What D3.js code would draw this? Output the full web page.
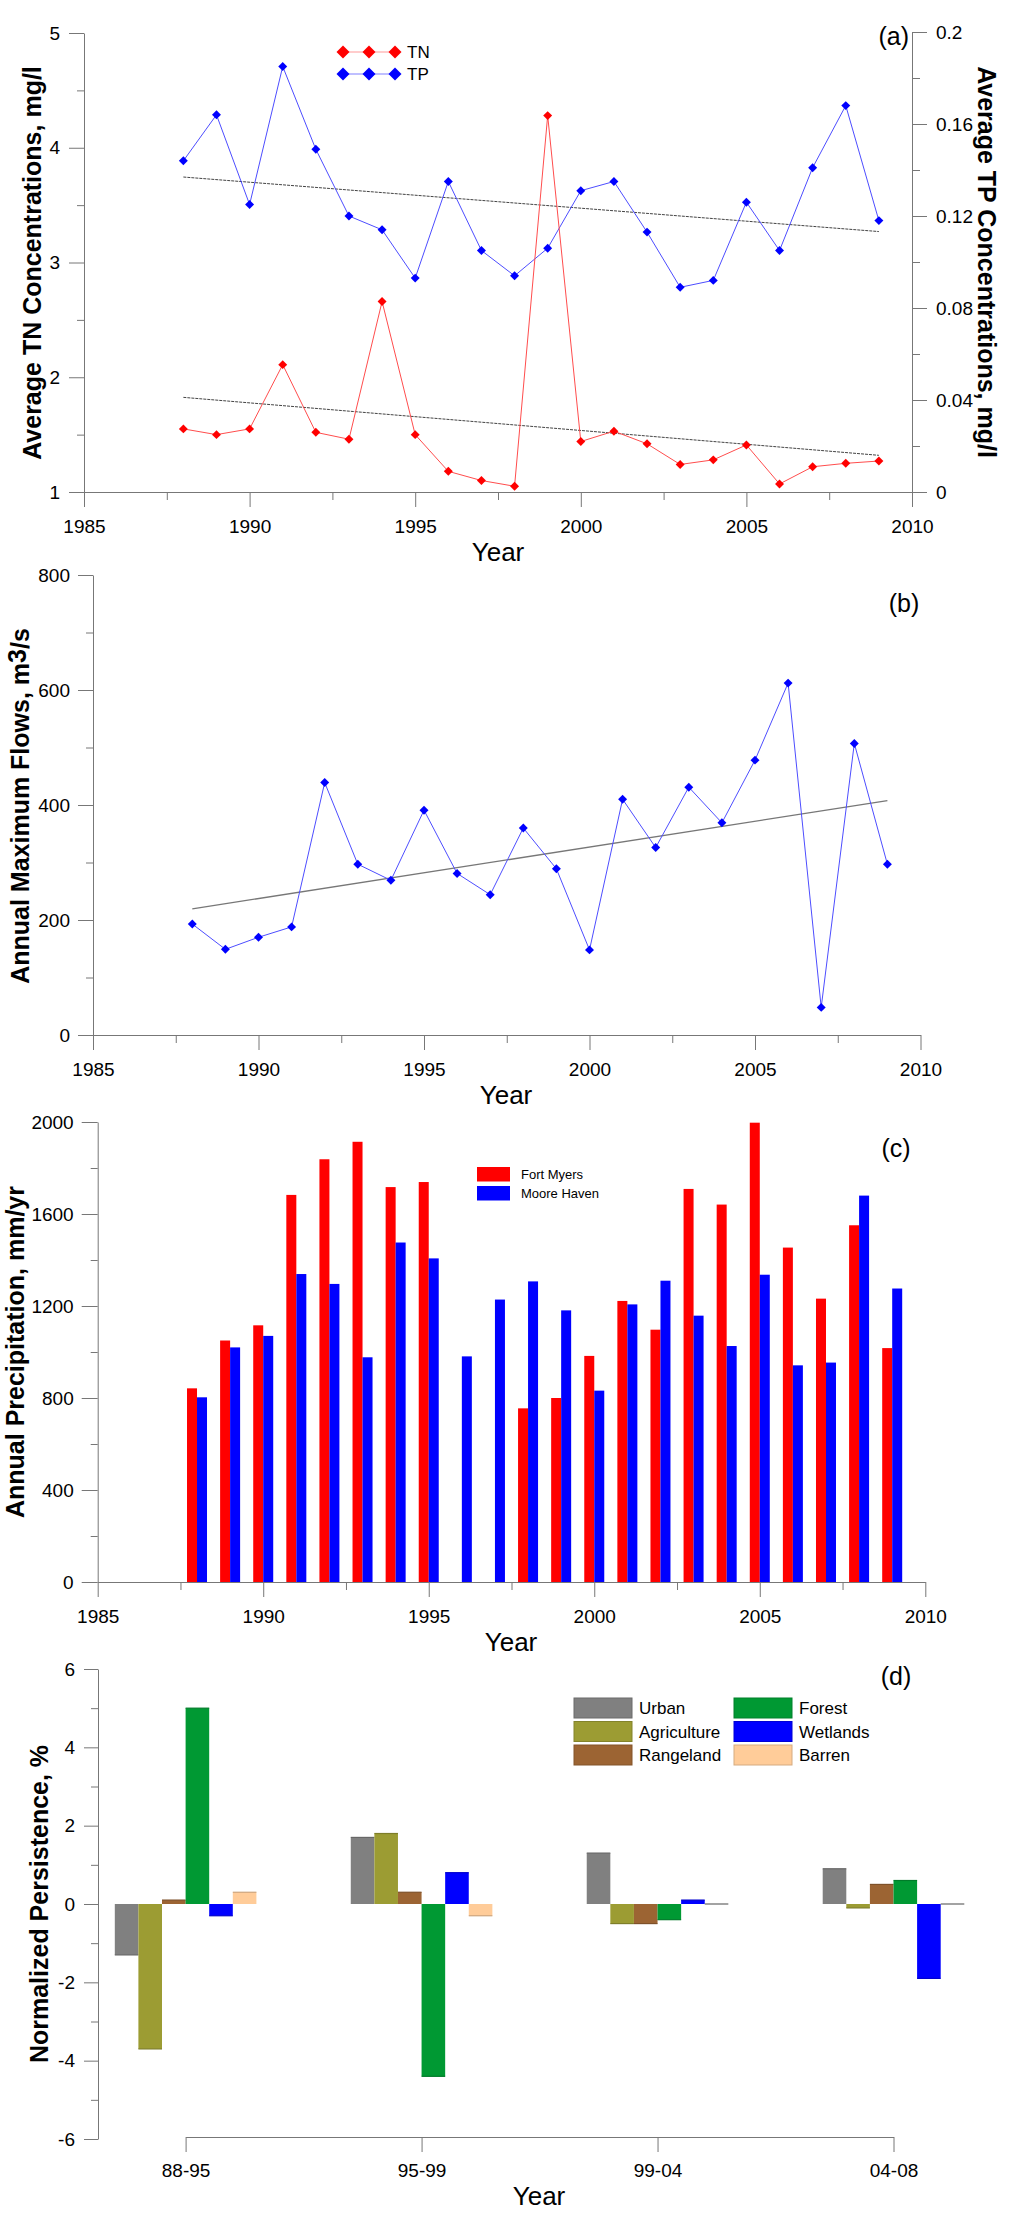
<!DOCTYPE html>
<html>
<head>
<meta charset="utf-8">
<script src="https://cdn.jsdelivr.net/npm/d3@7"></script>
<style>
  body { margin: 0; background: #fff; }
  text { font-family: "Liberation Sans", Arial, sans-serif; }
</style>
</head>
<body>
<div id="chart-area"></div>
<script>
// data
var years = [1988, 1989, 1990, 1991, 1992, 1993, 1994, 1995, 1996, 1997, 1998,
             1999, 2000, 2001, 2002, 2003, 2004, 2005, 2006, 2007, 2008, 2009];
var tn = [1.55, 1.50, 1.55, 2.11, 1.52, 1.46, 2.66, 1.50, 1.18, 1.10, 1.05,
          4.28, 1.44, 1.53, 1.42, 1.24, 1.28, 1.41, 1.07, 1.22, 1.25, 1.27];
var tp = [0.144, 0.164, 0.125, 0.185, 0.149, 0.120, 0.114, 0.093, 0.135, 0.105, 0.094,
          0.106, 0.131, 0.135, 0.113, 0.089, 0.092, 0.126, 0.105, 0.141, 0.168, 0.118];
var maxFlow = [193, 149, 170, 188, 439, 297, 269, 391, 281, 244, 360,
               289, 148, 410, 326, 431, 369, 478, 612, 48, 507, 297];
var fortMyers = [842, 1050, 1116, 1683, 1838, 1914, 1717, 1739, null, null, 755,
                 800, 983, 1222, 1097, 1709, 1641, 1997, 1454, 1232, 1551, 1017];
var mooreHaven = [803, 1020, 1070, 1339, 1296, 977, 1476, 1407, 981, 1228, 1307,
                  1181, 832, 1207, 1310, 1158, 1026, 1336, 942, 954, 1680, 1276];

var periods = ["88-95", "95-99", "99-04", "04-08"];
var landUse = ["Urban", "Agriculture", "Rangeland", "Forest", "Wetlands", "Barren"];
var urban = [-1.3, 1.7, 1.3, 0.9];
var agriculture = [-3.7, 1.8, -0.5, -0.1];
var rangeland = [0.1, 0.3, -0.5, 0.5];
var forest = [5.0, -4.4, -0.4, 0.6];
var wetlands = [-0.3, 0.8, 0.1, -1.9];
var barren = [0.3, -0.3, 0, 0];
var landColors = ["#808080", "#9c9c33", "#9c6433", "#009933", "#0000ff", "#ffcc99"];

var yearTicks = [1985, 1990, 1995, 2000, 2005, 2010];
var yearMinor = [1987.5, 1992.5, 1997.5, 2002.5, 2007.5];

var AXIS = "#777";
var FONT = "Liberation Sans, Arial, sans-serif";
var plain = function (d) { return String(+d.toFixed(3)); };

var svg = d3.select("#chart-area").append("svg")
    .attr("width", 1024)
    .attr("height", 2214);

function styleAxis(g, size) {
    g.attr("font-family", FONT).attr("font-size", size);
    g.select(".domain").attr("stroke", AXIS);
    g.selectAll(".tick line").attr("stroke", AXIS);
    g.selectAll(".tick text").attr("fill", "#000");
}

function minorAxis(g) {
    g.select(".domain").remove();
    g.selectAll(".tick line").attr("stroke", AXIS);
}

function yTitle(x, y, text, rot) {
    return svg.append("text")
        .attr("transform", "translate(" + x + "," + y + ") rotate(" + rot + ")")
        .attr("text-anchor", "middle")
        .attr("font-weight", "bold")
        .attr("font-size", 25)
        .text(text);
}

function plainText(x, y, text, size, anchor) {
    return svg.append("text")
        .attr("x", x).attr("y", y)
        .attr("text-anchor", anchor || "middle")
        .attr("font-size", size)
        .text(text);
}

// least squares line through the yearly values
function trend(xs, ys) {
    var mx = d3.mean(xs), my = d3.mean(ys);
    var num = d3.sum(xs, function (x, i) { return (x - mx) * (ys[i] - my); });
    var den = d3.sum(xs, function (x) { return (x - mx) * (x - mx); });
    var b = num / den;
    return function (x) { return my + b * (x - mx); };
}

function yearAxis(x, yPos) {
    var g = svg.append("g").attr("transform", "translate(0," + yPos + ")")
        .call(d3.axisBottom(x).tickValues(yearTicks).tickSize(15).tickPadding(13)
            .tickSizeOuter(0).tickFormat(d3.format("d")));
    styleAxis(g, 19);
    svg.append("g").attr("transform", "translate(0," + yPos + ")")
        .call(d3.axisBottom(x).tickValues(yearMinor).tickSize(8).tickFormat(""))
        .call(minorAxis);
}

var diamond = d3.symbol().type(d3.symbolSquare).size(40);
var bigDiamond = d3.symbol().type(d3.symbolSquare).size(85);

// ---------- (a) TN / TP ----------
var xa = d3.scaleLinear().domain([1985, 2010]).range([84, 912]);
var yTN = d3.scaleLinear().domain([1, 5]).range([492, 33]);
var yTP = d3.scaleLinear().domain([0, 0.2]).range([492, 32]);

var ga = svg.append("g").attr("transform", "translate(84,0)")
    .call(d3.axisLeft(yTN).tickValues([1, 2, 3, 4, 5]).tickSize(15).tickPadding(9)
        .tickSizeOuter(0).tickFormat(plain));
styleAxis(ga, 19);
svg.append("g").attr("transform", "translate(84,0)")
    .call(d3.axisLeft(yTN).tickValues([1.5, 2.5, 3.5, 4.5]).tickSize(7).tickFormat(""))
    .call(minorAxis);

var gr = svg.append("g").attr("transform", "translate(912,0)")
    .call(d3.axisRight(yTP).tickValues([0, 0.04, 0.08, 0.12, 0.16, 0.2]).tickSize(15).tickPadding(9)
        .tickSizeOuter(0).tickFormat(plain));
styleAxis(gr, 19);
svg.append("g").attr("transform", "translate(912,0)")
    .call(d3.axisRight(yTP).tickValues([0.02, 0.06, 0.1, 0.14, 0.18]).tickSize(8).tickFormat(""))
    .call(minorAxis);

yearAxis(xa, 492);

var tnTrend = trend(years, tn);
var tpTrend = trend(years, tp);
var ends = [years[0], years[years.length - 1]];

svg.append("path")
    .attr("d", d3.line().x(function (d) { return xa(d); }).y(function (d) { return yTP(tpTrend(d)); })(ends))
    .attr("stroke", "#444").attr("stroke-width", 1).attr("stroke-dasharray", "3,1").attr("fill", "none");
svg.append("path")
    .attr("d", d3.line().x(function (d) { return xa(d); }).y(function (d) { return yTN(tnTrend(d)); })(ends))
    .attr("stroke", "#444").attr("stroke-width", 1).attr("stroke-dasharray", "3,1").attr("fill", "none");

svg.append("path")
    .attr("d", d3.line().x(function (d, i) { return xa(years[i]); }).y(function (d) { return yTP(d); })(tp))
    .attr("stroke", "#4d4dff").attr("stroke-width", 1).attr("fill", "none");
svg.append("path")
    .attr("d", d3.line().x(function (d, i) { return xa(years[i]); }).y(function (d) { return yTN(d); })(tn))
    .attr("stroke", "#ff4d4d").attr("stroke-width", 1).attr("fill", "none");

svg.selectAll(".tp-dot").data(tp).enter().append("path")
    .attr("class", "tp-dot")
    .attr("d", diamond)
    .attr("transform", function (d, i) { return "translate(" + xa(years[i]) + "," + yTP(d) + ") rotate(45)"; })
    .attr("fill", "#0000ff");
svg.selectAll(".tn-dot").data(tn).enter().append("path")
    .attr("class", "tn-dot")
    .attr("d", diamond)
    .attr("transform", function (d, i) { return "translate(" + xa(years[i]) + "," + yTN(d) + ") rotate(45)"; })
    .attr("fill", "#ff0000");

// legend (a)
[["TN", "#ff0000", "#ff9a9a", 52], ["TP", "#0000ff", "#8080ff", 74]].forEach(function (s) {
    svg.append("line").attr("x1", 343).attr("x2", 395).attr("y1", s[3]).attr("y2", s[3])
        .attr("stroke", s[2]).attr("stroke-width", 1.2);
    [343, 369, 395].forEach(function (cx) {
        svg.append("path").attr("d", bigDiamond)
            .attr("transform", "translate(" + cx + "," + s[3] + ") rotate(45)")
            .attr("fill", s[1]);
    });
    plainText(407, s[3] + 6, s[0], 17, "start");
});

yTitle(41, 263, "Average TN Concentrations, mg/l", -90);
yTitle(978, 262, "Average TP Concentrations, mg/l", 90);
plainText(498, 561, "Year", 26);
plainText(909, 45, "(a)", 25, "end");

// ---------- (b) annual maximum flows ----------
var xb = d3.scaleLinear().domain([1985, 2010]).range([93, 920.5]);
var yb = d3.scaleLinear().domain([0, 800]).range([1035, 575]);

var gb = svg.append("g").attr("transform", "translate(93,0)")
    .call(d3.axisLeft(yb).tickValues([0, 200, 400, 600, 800]).tickSize(15).tickPadding(8)
        .tickSizeOuter(0).tickFormat(d3.format("d")));
styleAxis(gb, 19);
svg.append("g").attr("transform", "translate(93,0)")
    .call(d3.axisLeft(yb).tickValues([100, 300, 500, 700]).tickSize(7).tickFormat(""))
    .call(minorAxis);
yearAxis(xb, 1035);

var flowTrend = trend(years, maxFlow);
svg.append("path")
    .attr("d", d3.line().x(function (d) { return xb(d); }).y(function (d) { return yb(flowTrend(d)); })(ends))
    .attr("stroke", "#777").attr("stroke-width", 1.3).attr("fill", "none");
svg.append("path")
    .attr("d", d3.line().x(function (d, i) { return xb(years[i]); }).y(function (d) { return yb(d); })(maxFlow))
    .attr("stroke", "#4d4dff").attr("stroke-width", 1).attr("fill", "none");
svg.selectAll(".flow-dot").data(maxFlow).enter().append("path")
    .attr("class", "flow-dot")
    .attr("d", diamond)
    .attr("transform", function (d, i) { return "translate(" + xb(years[i]) + "," + yb(d) + ") rotate(45)"; })
    .attr("fill", "#0000ff");

var tb = yTitle(29, 806, "Annual Maximum Flows, m", -90);
tb.append("tspan").attr("dy", -3).text("3");
tb.append("tspan").attr("dy", 3).text("/s");
plainText(506, 1104, "Year", 26);
plainText(904, 612, "(b)", 25);

// ---------- (c) annual precipitation ----------
var xc = d3.scaleLinear().domain([1985, 2010]).range([97.7, 925.3]);
var yc = d3.scaleLinear().domain([0, 2000]).range([1582, 1122]);

var gc = svg.append("g").attr("transform", "translate(97.7,0)")
    .call(d3.axisLeft(yc).tickValues([0, 400, 800, 1200, 1600, 2000]).tickSize(16).tickPadding(8)
        .tickSizeOuter(0).tickFormat(d3.format("d")));
styleAxis(gc, 19);
svg.append("g").attr("transform", "translate(97.7,0)")
    .call(d3.axisLeft(yc).tickValues([200, 600, 1000, 1400, 1800]).tickSize(7).tickFormat(""))
    .call(minorAxis);
yearAxis(xc, 1582);

var barW = 10;
var fmRows = years.map(function (yr, i) { return { year: yr, v: fortMyers[i] }; })
    .filter(function (d) { return d.v !== null; });
svg.selectAll(".fm-bar").data(fmRows).enter().append("rect")
    .attr("class", "fm-bar")
    .attr("x", function (d) { return xc(d.year) - barW; })
    .attr("y", function (d) { return yc(d.v); })
    .attr("width", barW)
    .attr("height", function (d) { return yc(0) - yc(d.v); })
    .attr("fill", "#ff0000");
svg.selectAll(".mh-bar").data(mooreHaven).enter().append("rect")
    .attr("class", "mh-bar")
    .attr("x", function (d, i) { return xc(years[i]); })
    .attr("y", function (d) { return yc(d); })
    .attr("width", barW)
    .attr("height", function (d) { return yc(0) - yc(d); })
    .attr("fill", "#0000ff");

svg.append("rect").attr("x", 477).attr("y", 1167).attr("width", 33).attr("height", 14.5).attr("fill", "#ff0000");
svg.append("rect").attr("x", 477).attr("y", 1186).attr("width", 33).attr("height", 14.5).attr("fill", "#0000ff");
plainText(521, 1179, "Fort Myers", 13, "start");
plainText(521, 1198, "Moore Haven", 13, "start");

yTitle(24, 1352, "Annual Precipitation, mm/yr", -90);
plainText(511, 1651, "Year", 26);
plainText(896, 1157, "(c)", 25);

// ---------- (d) normalized persistence ----------
var xd = d3.scalePoint().domain(periods).range([185.6, 893.5]);
var inner = d3.scaleBand().domain(landUse).range([-70.8, 70.8]);
var yd = d3.scaleLinear().domain([-6, 6]).range([2139, 1669]);
var seriesD = [urban, agriculture, rangeland, forest, wetlands, barren];

var gd = svg.append("g").attr("transform", "translate(98,0)")
    .call(d3.axisLeft(yd).tickValues([-6, -4, -2, 0, 2, 4, 6]).tickSize(14).tickPadding(9)
        .tickSizeOuter(0).tickFormat(function (d) { return String(d); }));
styleAxis(gd, 19);
svg.append("g").attr("transform", "translate(98,0)")
    .call(d3.axisLeft(yd).tickValues([-5, -3, -1, 1, 3, 5]).tickSize(7).tickFormat(""))
    .call(minorAxis);

var gdx = svg.append("g").attr("transform", "translate(0," + (yd(-6) - 2) + ")")
    .call(d3.axisBottom(xd).tickSize(15).tickPadding(12).tickSizeOuter(0));
styleAxis(gdx, 19);

landUse.forEach(function (name, k) {
    var col = landColors[k];
    var edge = d3.color(col).darker(0.6);
    var grp = svg.selectAll(".bar-" + k).data(seriesD[k]).enter();
    grp.append("rect")
        .attr("class", "bar-" + k)
        .attr("x", function (d, i) { return xd(periods[i]) + inner(name); })
        .attr("y", function (d) { return yd(Math.max(0, d)); })
        .attr("width", inner.bandwidth())
        .attr("height", function (d) { return Math.abs(yd(d) - yd(0)); })
        .attr("fill", col);
    grp.append("line")
        .attr("x1", function (d, i) { return xd(periods[i]) + inner(name); })
        .attr("x2", function (d, i) { return xd(periods[i]) + inner(name) + inner.bandwidth(); })
        .attr("y1", function (d) { return yd(d); })
        .attr("y2", function (d) { return yd(d); })
        .attr("stroke", function (d) { return d === 0 ? "#666" : edge; })
        .attr("stroke-width", 1.2);
});

// legend (d)
landUse.forEach(function (name, k) {
    var lx = k < 3 ? 574 : 734;
    var ly = 1698 + (k % 3) * 23.5;
    svg.append("rect").attr("x", lx).attr("y", ly).attr("width", 58).attr("height", 20)
        .attr("fill", landColors[k]).attr("stroke", d3.color(landColors[k]).darker(0.5)).attr("stroke-width", 1);
    plainText(lx + 65, ly + 16, name, 17, "start");
});

yTitle(48, 1904, "Normalized Persistence, %", -90);
plainText(539, 2205, "Year", 26);
plainText(896, 1685, "(d)", 25);
</script>
</body>
</html>
